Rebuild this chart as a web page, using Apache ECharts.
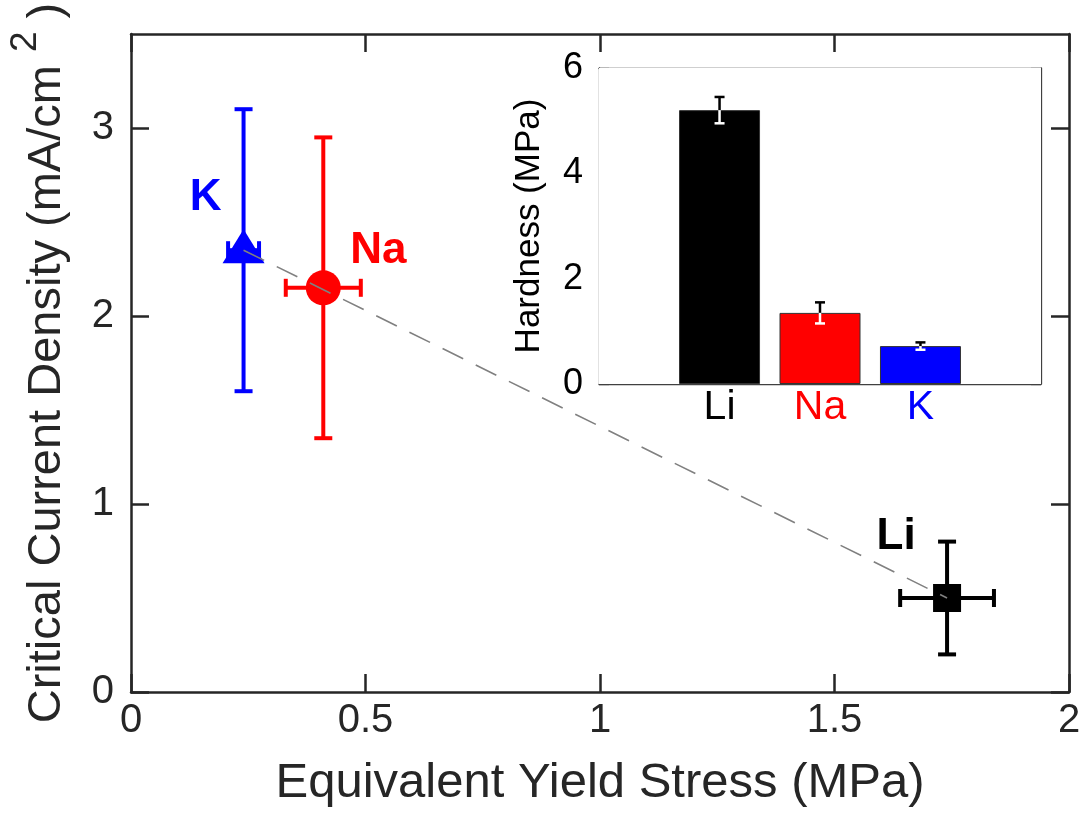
<!DOCTYPE html>
<html>
<head>
<meta charset="utf-8">
<script src="https://cdn.jsdelivr.net/npm/echarts@6/dist/echarts.min.js"></script>
<style>
  html, body { margin: 0; padding: 0; background: #fff; }
  #chart { width: 1088px; height: 821px; }
</style>
</head>
<body>
<div id="chart"></div>
<script>
// ---- Main plot data ----
const metals = ['K', 'Na', 'Li'];
const metalColors = ['#0000ff', '#ff0000', '#000000'];
const metalSymbols = ['triangle', 'circle', 'rect'];
const yieldStress = [0.24, 0.41, 1.74];      // MPa
const yieldStressErr = [0.033, 0.08, 0.10];
const currentDensity = [2.35, 2.15, 0.50];   // mA/cm^2
const currentDensityErr = [0.75, 0.80, 0.30];
const xTicks = [0, 0.5, 1, 1.5, 2];
const yTicks = [0, 1, 2, 3];

// ---- Inset data ----
const insetCats = ['Li', 'Na', 'K'];
const insetColors = ['#000000', '#ff0000', '#0000ff'];
const hardness = [5.2, 1.35, 0.72];           // MPa
const hardnessErr = [0.25, 0.20, 0.07];
const insetYTicks = [0, 1, 2, 3, 4, 5, 6];
const insetYLabels = [0, 2, 4, 6];

const FONT = '"Liberation Sans", Arial, Helvetica, sans-serif';
const AX = '#262626';

const chart = echarts.init(document.getElementById('chart'), null, { renderer: 'canvas' });

const labelOffsets = { K: [-38, -48], Na: [55, -37], Li: [-51, -61] };

function mainErrRender(params, api) {
  const i = params.dataIndex;
  const x = api.value(0), y = api.value(1), ex = api.value(2), ey = api.value(3);
  const top = api.coord([x, y + ey]);
  const bot = api.coord([x, y - ey]);
  const lft = api.coord([x - ex, y]);
  const rgt = api.coord([x + ex, y]);
  const color = metalColors[i];
  const style = { stroke: color, lineWidth: 4, fill: null };
  const cw = 9;
  return {
    type: 'group',
    children: [
      { type: 'line', shape: { x1: top[0], y1: top[1], x2: bot[0], y2: bot[1] }, style },
      { type: 'line', shape: { x1: top[0] - cw, y1: top[1], x2: top[0] + cw, y2: top[1] }, style },
      { type: 'line', shape: { x1: bot[0] - cw, y1: bot[1], x2: bot[0] + cw, y2: bot[1] }, style },
      { type: 'line', shape: { x1: lft[0], y1: lft[1], x2: rgt[0], y2: rgt[1] }, style },
      { type: 'line', shape: { x1: lft[0], y1: lft[1] - cw, x2: lft[0], y2: lft[1] + cw }, style },
      { type: 'line', shape: { x1: rgt[0], y1: rgt[1] - cw, x2: rgt[0], y2: rgt[1] + cw }, style }
    ]
  };
}

function insetErrRender(params, api) {
  const x = api.value(0), v = api.value(1), e = api.value(2);
  const hi = v + e, lo = v - e;
  const pv = api.coord([x, v]);
  const ph = api.coord([x, hi]);
  const pl = api.coord([x, lo]);
  const cw = 5;
  const black = { stroke: '#000', lineWidth: 2.5, fill: null };
  const white = { stroke: '#fff', lineWidth: 2.5, fill: null };
  return {
    type: 'group',
    children: [
      { type: 'line', shape: { x1: ph[0], y1: ph[1], x2: pv[0], y2: pv[1] }, style: black },
      { type: 'line', shape: { x1: pv[0], y1: pv[1], x2: pl[0], y2: pl[1] }, style: white },
      { type: 'line', shape: { x1: ph[0] - cw, y1: ph[1], x2: ph[0] + cw, y2: ph[1] }, style: hi > v ? black : white },
      { type: 'line', shape: { x1: pl[0] - cw, y1: pl[1], x2: pl[0] + cw, y2: pl[1] }, style: lo > v ? black : white }
    ]
  };
}

const option = {
  backgroundColor: '#fff',
  animation: false,
  textStyle: { fontFamily: FONT },
  grid: [
    { left: 131, top: 34, right: 19, bottom: 129, show: false, containLabel: false, outerBoundsMode: 'none' },
    { left: 599, top: 68, right: 47, bottom: 437, show: true, backgroundColor: '#fff', borderWidth: 0, z: 5,
      containLabel: false, outerBoundsMode: 'none' }
  ],
  xAxis: [
    {
      gridIndex: 0, type: 'value', min: 0, max: 2, interval: 0.5, position: 'bottom',
      name: 'Equivalent Yield Stress (MPa)', nameLocation: 'middle', nameGap: 67,
      nameTextStyle: { fontSize: 49, color: AX, fontFamily: FONT },
      axisLine: { show: true, lineStyle: { color: AX, width: 2.5 } },
      axisTick: { show: true, inside: true, length: 18, customValues: xTicks, lineStyle: { color: AX, width: 2.5 } },
      axisLabel: { show: true, fontSize: 40, color: AX, margin: 9, fontFamily: FONT, customValues: xTicks,
        formatter: v => String(v) },
      splitLine: { show: false }
    },
    {
      gridIndex: 0, type: 'value', min: 0, max: 2, interval: 0.5, position: 'top',
      axisLine: { show: true, onZero: false, lineStyle: { color: AX, width: 2.5 } },
      axisTick: { show: true, inside: true, length: 18, customValues: xTicks, lineStyle: { color: AX, width: 2.5 } },
      axisLabel: { show: false }, splitLine: { show: false }
    },
    {
      gridIndex: 1, type: 'value', min: -0.2, max: 4.2, position: 'bottom',
      axisLine: { show: true, onZero: false, lineStyle: { color: '#404040', width: 1.3 } },
      axisTick: { show: false },
      axisLabel: {
        show: true, margin: 3, fontFamily: FONT,
        customValues: [1, 2, 3],
        formatter: v => {
          const idx = Math.round(v) - 1;
          return '{c' + idx + '|' + insetCats[idx] + '}';
        },
        rich: {
          c0: { fontSize: 41, color: insetColors[0], fontFamily: FONT },
          c1: { fontSize: 41, color: insetColors[1], fontFamily: FONT },
          c2: { fontSize: 41, color: insetColors[2], fontFamily: FONT }
        }
      },
      splitLine: { show: false }
    },
    {
      gridIndex: 1, type: 'value', min: -0.2, max: 4.2, position: 'top',
      axisLine: { show: true, onZero: false, lineStyle: { color: '#404040', width: 1.3 } },
      axisTick: { show: true, inside: true, length: 9, customValues: [1, 2, 3], lineStyle: { color: '#404040', width: 1.3 } },
      axisLabel: { show: false }, splitLine: { show: false }
    }
  ],
  yAxis: [
    {
      gridIndex: 0, type: 'value', min: 0, max: 3.5, position: 'left',
      name: '{n|Critical Current Density (mA/cm }{s|2}{n| )}',
      nameLocation: 'middle', nameGap: 60, nameRotate: 90,
      nameTextStyle: {
        color: AX, fontFamily: FONT,
        rich: {
          n: { fontSize: 47, lineHeight: 64, verticalAlign: 'bottom', color: AX, fontFamily: FONT },
          s: { fontSize: 37, verticalAlign: 'top', color: AX, fontFamily: FONT }
        }
      },
      axisLine: { show: true, lineStyle: { color: AX, width: 2.5 } },
      axisTick: { show: true, inside: true, length: 18, customValues: yTicks, lineStyle: { color: AX, width: 2.5 } },
      axisLabel: { show: true, fontSize: 40, color: AX, margin: 17, fontFamily: FONT, customValues: yTicks },
      splitLine: { show: false }
    },
    {
      gridIndex: 0, type: 'value', min: 0, max: 3.5, position: 'right',
      axisLine: { show: true, onZero: false, lineStyle: { color: AX, width: 2.5 } },
      axisTick: { show: true, inside: true, length: 18, customValues: yTicks, lineStyle: { color: AX, width: 2.5 } },
      axisLabel: { show: false }, splitLine: { show: false }
    },
    {
      gridIndex: 1, type: 'value', min: 0, max: 6, interval: 1, position: 'left',
      name: 'Hardness (MPa)', nameLocation: 'middle', nameGap: 52, nameRotate: 90,
      nameTextStyle: { fontSize: 35, color: '#000', fontFamily: FONT },
      axisLine: { show: true, onZero: false, lineStyle: { color: '#404040', width: 1.3 } },
      axisTick: { show: true, inside: true, length: 10, customValues: insetYTicks, lineStyle: { color: '#404040', width: 1.3 } },
      axisLabel: { show: true, fontSize: 36, color: '#000', margin: 16, fontFamily: FONT, customValues: insetYLabels },
      splitLine: { show: false }
    },
    {
      gridIndex: 1, type: 'value', min: 0, max: 6, interval: 1, position: 'right',
      axisLine: { show: true, onZero: false, lineStyle: { color: '#404040', width: 1.3 } },
      axisTick: { show: true, inside: true, length: 10, customValues: insetYTicks, lineStyle: { color: '#404040', width: 1.3 } },
      axisLabel: { show: false }, splitLine: { show: false }
    }
  ],
  series: [
    {
      type: 'custom', xAxisIndex: 0, yAxisIndex: 0, z: 2, silent: true,
      renderItem: mainErrRender,
      data: metals.map((m, i) => [yieldStress[i], currentDensity[i], yieldStressErr[i], currentDensityErr[i]])
    },
    {
      type: 'scatter', xAxisIndex: 0, yAxisIndex: 0, z: 3, silent: true,
      itemStyle: { opacity: 1 },
      data: metals.map((m, i) => ({
        value: [yieldStress[i], currentDensity[i]],
        symbol: metalSymbols[i],
        symbolSize: m === 'K' ? [42, 34] : (m === 'Na' ? 35 : 28),
        symbolOffset: m === 'K' ? [0, -4] : [0, 0],
        itemStyle: { color: metalColors[i], opacity: 1 },
        label: {
          show: true, formatter: m, position: 'inside', offset: labelOffsets[m],
          fontSize: 44, fontWeight: 'bold', color: metalColors[i], opacity: 1, fontFamily: FONT
        }
      }))
    },
    {
      type: 'line', xAxisIndex: 0, yAxisIndex: 0, z: 4, symbol: 'none', silent: true,
      data: [[yieldStress[0], currentDensity[0]], [yieldStress[2], currentDensity[2]]],
      lineStyle: { color: '#808080', width: 1.6, type: [23, 14] }
    },
    {
      type: 'bar', xAxisIndex: 2, yAxisIndex: 2, z: 6, barWidth: 81, silent: true,
      data: insetCats.map((c, i) => ({
        value: [i + 1, hardness[i]],
        itemStyle: { color: insetColors[i], borderColor: '#333', borderWidth: 1 }
      }))
    },
    {
      type: 'custom', xAxisIndex: 2, yAxisIndex: 2, z: 7, silent: true,
      renderItem: insetErrRender,
      data: insetCats.map((c, i) => [i + 1, hardness[i], hardnessErr[i]])
    }
  ]
};

chart.setOption(option);
</script>
</body>
</html>
